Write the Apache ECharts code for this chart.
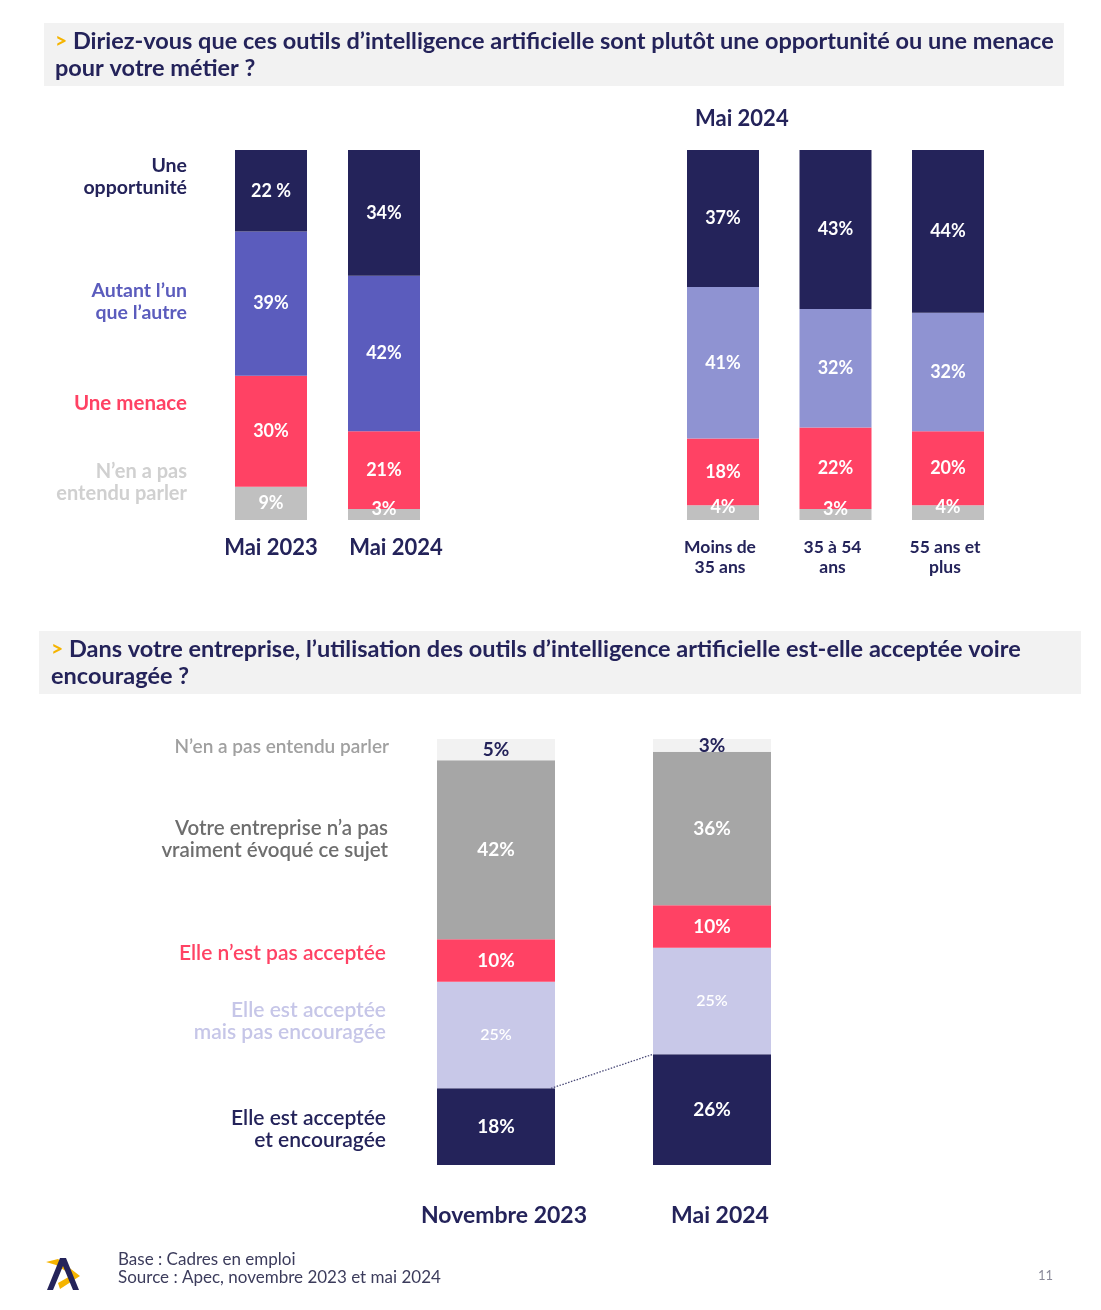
<!DOCTYPE html>
<html>
<head>
<meta charset="utf-8">
<script src="https://cdn.jsdelivr.net/npm/echarts@6/dist/echarts.min.js"></script>
<style>
  html, body { margin: 0; padding: 0; background: #fff; }
  #main { width: 1101px; height: 1310px; }
</style>
</head>
<body>
<div id="main"></div>
<script>
// --- données : opportunité ou menace (global)
var vaguesAvis = ['Mai 2023', 'Mai 2024'];
var avisOpportunite = [22, 34];
var avisAutant = [39, 42];
var avisMenace = [30, 21];
var avisNonEntendu = [9, 3];

// --- données : Mai 2024 par âge
var tranchesAge = ['Moins de\n35 ans', '35 à 54\nans', '55 ans et\nplus'];
var ageOpportunite = [37, 43, 44];
var ageAutant = [41, 32, 32];
var ageMenace = [18, 22, 20];
var ageNonEntendu = [4, 3, 4];

// --- données : utilisation acceptée / encouragée
var vaguesEntreprise = ['Novembre 2023', 'Mai 2024'];
var accepteeEncouragee = [18, 26];
var accepteeNonEncouragee = [25, 25];
var nonAcceptee = [10, 10];
var nonEvoque = [42, 36];
var nonEntenduEnt = [5, 3];

var NAVY = '#24235a';
var PURPLE = '#5b5cbd';
var LIGHT_PURPLE = '#8f93d2';
var RED = '#ff4264';
var GREY = '#c0c0c0';
var FONT = 'Lato, "Open Sans", sans-serif';

var myChart = echarts.init(document.getElementById('main'));

function pct(p) {
    // la première barre du graphique affiche "22 %" avec une espace
    if (p.seriesName == 'Une opportunité' && p.seriesIndex == 3 && p.dataIndex == 0) {
        return p.value + ' %';
    }
    return p.value + '%';
}

// petites valeurs : étiquette un peu remontée
function withSmallOffset(arr) {
    return arr.map(function (v) {
        if (v < 5) {
            return { value: v, label: { offset: [0, -5] } };
        }
        return v;
    });
}

function bar(name, data, color, axis, opts) {
    opts = opts || {};
    return {
        name: name,
        type: 'bar',
        stack: 's' + axis,
        xAxisIndex: axis,
        yAxisIndex: axis,
        barWidth: opts.barWidth || 72,
        data: data,
        itemStyle: { color: color },
        label: {
            show: true,
            position: 'inside',
            color: opts.labelColor || '#fff',
            fontFamily: FONT,
            fontWeight: opts.fontWeight || 'bold',
            fontSize: opts.fontSize || 18,
            formatter: pct
        },
        silent: true,
        animation: false
    };
}

function headerText(x, y, text) {
    return {
        type: 'text',
        left: x, top: y,
        style: {
            text: '{y|>} ' + text,
            fill: NAVY,
            font: 'bold 23.5px ' + FONT,
            lineHeight: 27,
            rich: {
                y: { fill: '#f5b400', font: 'bold 21px ' + FONT }
            }
        }
    };
}

function sideLabel(x, y, text, color, size, weight) {
    return {
        type: 'text',
        x: x, y: y,
        style: {
            text: text,
            fill: color,
            align: 'right',
            verticalAlign: 'middle',
            font: (weight || 'bold') + ' ' + (size || 19) + 'px ' + FONT,
            lineHeight: 22
        }
    };
}

var barWidthBottom = 118;

// le libellé "Mai 2024" du premier graphique est décalé vers la droite
var vaguesAvisLabels = vaguesAvis.map(function (v, i) {
    return i == 1 ? { value: v, textStyle: { padding: [0, 0, 0, 24] } } : v;
});

myChart.setOption({
    backgroundColor: '#fff',
    grid: [
        { left: 214.5, top: 150, width: 226, height: 370 },
        { left: 666.75, top: 150, width: 337.5, height: 370 },
        { left: 388, top: 739, width: 432, height: 426 }
    ],
    xAxis: [
        {
            type: 'category', gridIndex: 0, data: vaguesAvisLabels,
            axisLine: { show: false }, axisTick: { show: false },
            axisLabel: { interval: 0, color: NAVY, fontFamily: FONT, fontWeight: 'bold', fontSize: 22, margin: 17 }
        },
        {
            type: 'category', gridIndex: 1, data: tranchesAge,
            axisLine: { show: false }, axisTick: { show: false },
            axisLabel: { interval: 0, color: NAVY, fontFamily: FONT, fontWeight: 'bold', fontSize: 17.5, lineHeight: 20, margin: 17, padding: [0, 6, 0, 0] }
        },
        {
            type: 'category', gridIndex: 2, data: vaguesEntreprise,
            axisLine: { show: false }, axisTick: { show: false },
            axisLabel: { interval: 0, color: NAVY, fontFamily: FONT, fontWeight: 'bold', fontSize: 23, margin: 39, padding: [0, 0, 0, 16] }
        }
    ],
    yAxis: [
        { type: 'value', gridIndex: 0, min: 0, max: 100, show: false },
        { type: 'value', gridIndex: 1, min: 0, max: 100, show: false },
        { type: 'value', gridIndex: 2, min: 0, max: 100, show: false }
    ],
    series: [
        bar("N'en a pas entendu parler", withSmallOffset(avisNonEntendu), GREY, 0),
        bar('Une menace', avisMenace, RED, 0),
        bar("Autant l'un que l'autre", avisAutant, PURPLE, 0),
        bar('Une opportunité', avisOpportunite, NAVY, 0),

        bar("N'en a pas entendu parler", withSmallOffset(ageNonEntendu), GREY, 1),
        bar('Une menace', ageMenace, RED, 1),
        bar("Autant l'un que l'autre", ageAutant, LIGHT_PURPLE, 1),
        bar('Une opportunité', ageOpportunite, NAVY, 1),

        bar('Elle est acceptée et encouragée', accepteeEncouragee, NAVY, 2, { barWidth: barWidthBottom, fontSize: 19 }),
        bar('Elle est acceptée mais pas encouragée', accepteeNonEncouragee, '#c8c8e8', 2, { barWidth: barWidthBottom, fontSize: 16, fontWeight: 600 }),
        bar("Elle n'est pas acceptée", nonAcceptee, RED, 2, { barWidth: barWidthBottom, fontSize: 19 }),
        bar("Votre entreprise n'a pas vraiment évoqué ce sujet", nonEvoque, '#a6a6a6', 2, { barWidth: barWidthBottom, fontSize: 19 }),
        bar("N'en a pas entendu parler", nonEntenduEnt, '#f2f2f2', 2, { barWidth: barWidthBottom, fontSize: 19, labelColor: NAVY }),

        {
            // pointillés reliant le haut des barres "acceptée et encouragée"
            type: 'custom',
            xAxisIndex: 2,
            yAxisIndex: 2,
            silent: true,
            z: 10,
            animation: false,
            encode: { x: [0, 2], y: [1, 3] },
            data: [[0, accepteeEncouragee[0], 1, accepteeEncouragee[1]]],
            renderItem: function (params, api) {
                var a = api.coord([api.value(0), api.value(1)]);
                var b = api.coord([api.value(2), api.value(3)]);
                return {
                    type: 'line',
                    shape: { x1: a[0] + barWidthBottom / 2 - 4, y1: a[1], x2: b[0] - barWidthBottom / 2, y2: b[1] },
                    style: { stroke: '#4a4a78', lineWidth: 1.3, lineDash: [1.5, 1.5] }
                };
            }
        }
    ],
    graphic: [
        // bandeaux de question
        { type: 'rect', shape: { x: 44, y: 23, width: 1020, height: 63 }, style: { fill: '#f2f2f2' } },
        headerText(55, 28, "Diriez-vous que ces outils d’intelligence artificielle sont plutôt une opportunité ou une menace\npour votre métier ?"),
        { type: 'rect', shape: { x: 39, y: 631, width: 1042, height: 63 }, style: { fill: '#f2f2f2' } },
        headerText(51, 636, "Dans votre entreprise, l’utilisation des outils d’intelligence artificielle est-elle acceptée voire\nencouragée ?"),

        // titre du graphique par âge
        { type: 'text', left: 695, top: 108, style: { text: 'Mai 2024', fill: NAVY, font: 'bold 22px ' + FONT } },

        // légendes à gauche (haut)
        sideLabel(187, 177, 'Une\nopportunité', NAVY, 19.5),
        sideLabel(187, 302, 'Autant l’un\nque l’autre', PURPLE, 19.5),
        sideLabel(187, 403, 'Une menace', RED, 20.5),
        sideLabel(187, 483, 'N’en a pas\nentendu parler', '#d0d0d0', 20),

        // légendes à gauche (bas)
        sideLabel(389, 747, 'N’en a pas entendu parler', '#a0a0a0', 19, 600),
        sideLabel(388, 839, 'Votre entreprise n’a pas\nvraiment évoqué ce sujet', '#6e6e6e', 20.5, 600),
        sideLabel(386, 953, 'Elle n’est pas acceptée', RED, 21, 600),
        sideLabel(386, 1021, 'Elle est acceptée\nmais pas encouragée', '#c6c6e8', 21, 600),
        sideLabel(386, 1129, 'Elle est acceptée\net encouragée', NAVY, 21, 600),

        // pied de page
        { type: 'text', left: 118, top: 1251, style: { text: 'Base : Cadres en emploi\nSource : Apec, novembre 2023 et mai 2024', fill: '#3c3c5c', font: '17px ' + FONT, lineHeight: 18 } },
        { type: 'text', left: 1038, top: 1269, style: { text: '11', fill: '#8a8a9a', font: '13px ' + FONT } },

        // logo
        { type: 'polygon', shape: { points: [[46, 1262], [58, 1259], [80, 1276], [60, 1289], [58, 1283], [72, 1275], [56, 1265]] }, style: { fill: '#f5b400' } },
        { type: 'polygon', shape: { points: [[47, 1290], [60, 1258], [66, 1258], [79, 1290], [73, 1290], [63, 1266], [53, 1290]] }, style: { fill: NAVY } }
    ]
});
</script>
</body>
</html>
